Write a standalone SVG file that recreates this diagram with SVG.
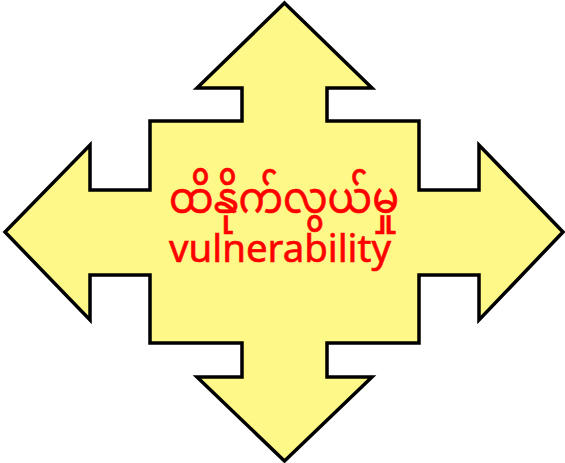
<svg xmlns="http://www.w3.org/2000/svg" width="565" height="463" viewBox="0 0 565 463">
<style>
.shape{fill:#FDF887;stroke:#000;stroke-width:3.5;stroke-linejoin:miter}
.lbl{fill:#FF0000;stroke:#FF0000;stroke-width:0.6;font-family:"Noto Sans","Noto Sans Myanmar","Padauk","DejaVu Sans",sans-serif;text-anchor:middle}
</style>
<rect width="565" height="463" fill="#fff"/>
<g id="cross">
<path class="shape" d="M284.5,3 L372,88 L327,88 L327,121 L419,121 L419,190 L479,190 L479,145 L563,232 L479,320 L479,275 L419,275 L419,343 L327,343 L327,377 L372,377 L284.5,461 L197,377 L242,377 L242,343 L150,343 L150,275 L90,275 L90,320 L5,232 L90,145 L90,190 L150,190 L150,121 L242,121 L242,88 L197,88 Z"/>
</g>
<g id="label">
<text class="lbl" x="284" y="213" font-size="44" textLength="230" lengthAdjust="spacingAndGlyphs">ထိနိုက်လွယ်မှု</text>
<text class="lbl" x="280" y="262" font-size="38" textLength="222" lengthAdjust="spacingAndGlyphs">vulnerability</text>
</g>
</svg>
